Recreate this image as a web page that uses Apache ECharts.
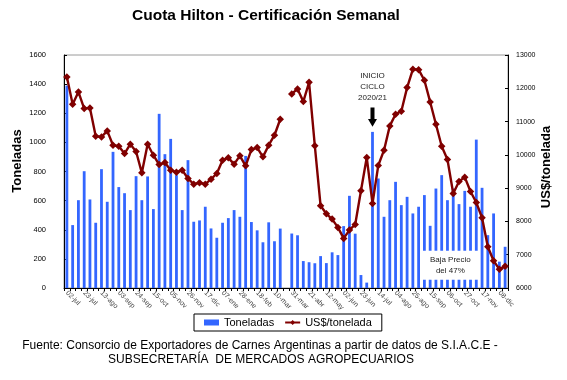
<!DOCTYPE html>
<html>
<head>
<meta charset="utf-8">
<script src="https://cdn.jsdelivr.net/npm/echarts@6/dist/echarts.min.js"></script>
<style>
html,body{margin:0;padding:0;background:#fff;}
#c{width:567px;height:380px;}
</style>
</head>
<body>
<div id="c"></div>
<script>
// ---- data ----
const weeks = [
 '02-jul','09-jul','16-jul','23-jul','30-jul','06-ago','13-ago','20-ago','27-ago','03-sep',
 '10-sep','17-sep','24-sep','01-oct','08-oct','15-oct','22-oct','29-oct','05-nov','12-nov',
 '19-nov','26-nov','03-dic','10-dic','17-dic','24-dic','31-dic',
 '07-ene','14-ene','21-ene','28-ene','04-feb','11-feb','18-feb','25-feb','03-mar','10-mar',
 '17-mar','24-mar','31-mar','07-abr','14-abr','21-abr','28-abr','05-may','12-may','19-may',
 '26-may','02-jun','09-jun','16-jun','23-jun','30-jun','07-jul','14-jul','21-jul','28-jul',
 '04-ago','11-ago','18-ago','25-ago','01-sep','08-sep','15-sep','22-sep','29-sep','06-oct',
 '13-oct','20-oct','27-oct','03-nov','10-nov','17-nov','24-nov','01-dic','08-dic','15-dic'
];
const toneladas = [
 1390,432,603,802,608,448,816,592,935,693,
 651,535,768,603,766,542,1196,919,1024,775,
 535,878,455,464,558,409,345,448,480,535,
 489,907,453,396,314,451,321,408,null,374,
 362,185,177,170,219,171,245,226,425,633,
 373,89,37,1072,752,489,603,729,569,626,
 512,558,638,427,683,775,603,683,576,667,
 558,1019,688,363,512,181,283
];
const precio = [
 12340,11520,11890,11390,11410,10560,10540,10720,10290,10260,
 10040,10320,10100,9460,10320,9990,9710,9770,9540,9480,
 9540,9290,9120,9160,9120,9270,9440,9840,9910,9720,
 9970,9670,10160,10220,9940,10290,10590,11070,null,11830,
 11980,11600,12180,10270,8470,8230,8070,7820,7490,7740,
 7910,8920,9920,8540,9680,10140,10870,11220,11310,12020,
 12570,12560,12240,11590,10920,10260,9860,8840,9200,9330,
 8900,8570,8110,7240,6820,6560,6650
];
const leftTicks = {min:0, max:1600, interval:200};
const rightTicks = {min:6000, max:13000, interval:1000};
const titleText = 'Cuota Hilton - Certificación Semanal';
const sourceText = ['Fuente: Consorcio de Exportadores de Carnes Argentinas a partir de datos de S.I.A.C.E -',
                    'SUBSECRETARÍA  DE MERCADOS AGROPECUARIOS'];
const inicioText = 'INICIO\nCICLO\n2020/21';
const inicioIndex = 53;
const bajaText = 'Baja Precio\ndel 47%';
const bajaRange = [62, 71];

const FONT = "'Liberation Sans', Arial, sans-serif";
const NARROW = "'Liberation Sans Narrow', 'Liberation Sans', Arial, sans-serif";

const chart = echarts.init(document.getElementById('c'), null, {renderer:'canvas'});
const plain = v => String(v);
const option = {
  animation:false,
  backgroundColor:'#fff',
  grid:{left:64, right:59, top:55, bottom:92, show:true, borderColor:'#9a9a9a', borderWidth:1, containLabel:false},
  legend:{
    left:194, top:314, padding:[3,10], itemGap:10,
    borderColor:'#000', borderWidth:1, borderRadius:0,
    itemWidth:15, itemHeight:6,
    textStyle:{fontFamily:FONT, fontSize:11, color:'#000'},
    data:[{name:'Toneladas', icon:'rect'}, {name:'US$/tonelada'}]
  },
  xAxis:{
    type:'category', data:weeks, boundaryGap:true,
    axisLine:{lineStyle:{color:'#000', width:1}},
    axisTick:{show:true, interval:0, length:3, lineStyle:{color:'#000'}},
    axisLabel:{interval:2, rotate:-45, fontSize:7, color:'#444', fontFamily:FONT, margin:4},
    splitLine:{show:false}
  },
  yAxis:[
    {type:'value', min:leftTicks.min, max:leftTicks.max, interval:leftTicks.interval,
     axisLine:{show:true, lineStyle:{color:'#000'}},
     axisTick:{show:true, inside:true, length:3, lineStyle:{color:'#000'}},
     axisLabel:{fontSize:7.5, color:'#000', fontFamily:NARROW, margin:18, formatter:plain},
     splitLine:{show:false}},
    {type:'value', min:rightTicks.min, max:rightTicks.max, interval:rightTicks.interval, position:'right',
     axisLine:{show:true, lineStyle:{color:'#000'}},
     axisTick:{show:true, inside:true, length:3, lineStyle:{color:'#000'}},
     axisLabel:{fontSize:7, color:'#000', fontFamily:NARROW, margin:8, formatter:plain},
     splitLine:{show:false}}
  ],
  series:[
    {name:'Toneladas', type:'bar', yAxisIndex:0, data:toneladas, barWidth:2.8,
     itemStyle:{color:'#3366ff'}, z:2},
    {name:'US$/tonelada', type:'line', yAxisIndex:1, data:precio, connectNulls:false,
     symbol:'diamond', symbolSize:7.5, showSymbol:true, showAllSymbol:true,
     lineStyle:{color:'#800000', width:2.4}, itemStyle:{color:'#800000'}, z:3}
  ]
};
chart.setOption(option);

// annotations positioned through the axes' scales
const xp = i => chart.convertToPixel({xAxisIndex:0}, i);
const yl = v => chart.convertToPixel({yAxisIndex:0}, v);
const ax = xp(inicioIndex);
const yTop = yl(1240), yHead = yl(1160), yTip = yl(1108);
const bx0 = xp(bajaRange[0]) - 2.8, bx1 = xp(bajaRange[1]) + 2.8;
const by0 = yl(255), by1 = yl(57);

chart.setOption({
  graphic:[
    {type:'text', x:266, y:16, z:100, style:{text:titleText, fontFamily:FONT, fontSize:15.5, fontWeight:'bold', fill:'#000', align:'center', verticalAlign:'middle'}},
    {type:'text', x:260, y:346, z:100, style:{text:sourceText[0], fontFamily:FONT, fontSize:12, fill:'#000', align:'center', verticalAlign:'middle'}},
    {type:'text', x:261, y:360, z:100, style:{text:sourceText[1], fontFamily:FONT, fontSize:12, fill:'#000', align:'center', verticalAlign:'middle'}},
    {type:'text', x:17, y:161, rotation:Math.PI/2, z:100, style:{text:'Toneladas', fontFamily:FONT, fontSize:13, fontWeight:'bold', fill:'#000', align:'center', verticalAlign:'middle'}},
    {type:'text', x:546, y:167, rotation:Math.PI/2, z:100, style:{text:'US$/tonelada', fontFamily:FONT, fontSize:13, fontWeight:'bold', fill:'#000', align:'center', verticalAlign:'middle'}},
    {type:'text', x:ax, y:yl(1382), z:100, style:{text:inicioText, fontFamily:FONT, fontSize:8, lineHeight:10.8, fill:'#222', align:'center', verticalAlign:'middle'}},
    {type:'polygon', z:100, shape:{points:[[ax-2,yTop],[ax+2,yTop],[ax+2,yHead],[ax+4.5,yHead],[ax,yTip],[ax-4.5,yHead],[ax-2,yHead]]}, style:{fill:'#000'}},
    {type:'rect', z:100, shape:{x:bx0, y:by0, width:bx1-bx0, height:by1-by0}, style:{fill:'#fff'}},
    {type:'text', x:(bx0+bx1)/2, y:(by0+by1)/2, z:101, style:{text:bajaText, fontFamily:FONT, fontSize:8, lineHeight:10.7, fill:'#222', align:'center', verticalAlign:'middle'}}
  ]
});
</script>
</body>
</html>
